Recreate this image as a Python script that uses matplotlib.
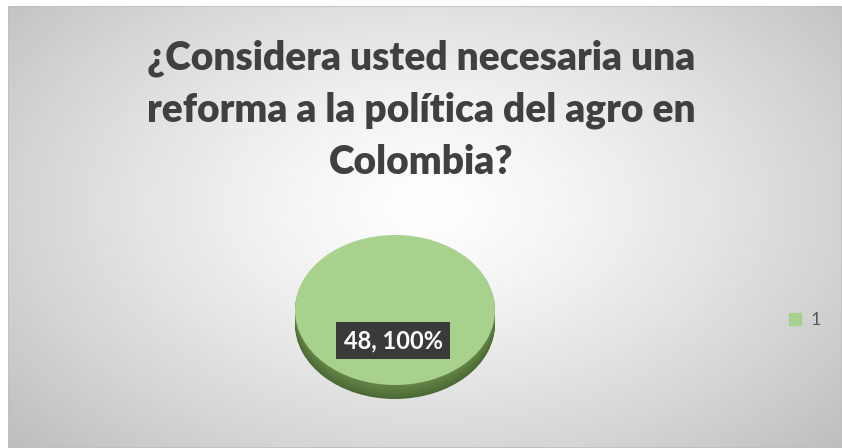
import matplotlib.pyplot as plt
import numpy as np
from matplotlib.patches import Rectangle

# data
categories = ['1']
values = [48]
title_lines = ['¿Considera usted necesaria una', 'reforma a la política del agro en', 'Colombia?']

W, H = 842, 448
fig = plt.figure(figsize=(W / 100, H / 100), dpi=100)
fig.patch.set_facecolor('white')
plt.rcParams['hatch.color'] = '#5a5a5a'
plt.rcParams['hatch.linewidth'] = 0.6

def px(x0, y0, x1, y1):
    # pixel box (top-left origin) -> figure fraction
    return [x0 / W, 1 - y1 / H, (x1 - x0) / W, (y1 - y0) / H]

# background with radial gradient
bg = fig.add_axes(px(8, 6, 842, 448))
gx, gy = np.meshgrid(np.linspace(0, 834, 400), np.linspace(0, 442, 220))
r = np.sqrt(((gx - 420) / 520) ** 2 + ((gy - 200) / 330) ** 2)
shade = 1 - 0.23 * np.clip(r, 0, 1.2) ** 1.3
img = np.dstack([shade, shade, shade])
bg.imshow(img, aspect='auto', extent=[0, 834, 442, 0], interpolation='bilinear')
bg.set_xlim(0, 834)
bg.set_ylim(442, 0)
bg.axis('off')
bg.add_patch(Rectangle((0, 0), 834, 442, fill=False, edgecolor='#bfbfbf', lw=1.2))

# title
for i, line in enumerate(title_lines):
    fig.text(421 / W, 1 - (58 + i * 52) / H, line, ha='center', va='center',
             fontsize=28, fontweight='heavy', family='Lato', color='#404040')

# pie axes (elliptical 3D-ish pie)
ax = fig.add_axes(px(295, 235, 495, 402))
ax.set_facecolor('none')
thick = 14 / 75
n = 14
for k in range(n, 0, -1):
    off = -thick * k / n
    c = np.array([0.30, 0.41, 0.21]) + (n - k) / n * np.array([0.09, 0.12, 0.07])
    ax.pie(values, colors=[tuple(c)], center=(0, off), radius=1.0,
           wedgeprops=dict(linewidth=0), normalize=True)
ax.pie(values, colors=['#a9d18e'], center=(0, 0), radius=1.0,
       wedgeprops=dict(linewidth=0), startangle=90)
ax.set_aspect('auto')
ax.set_xlim(-1, 1)
ax.set_ylim(-1 - (402 - 385) / 75, 1)
ax.axis('off')

# data label
total = sum(values)
lbl = f'{values[0]}, {values[0] / total:.0%}'
ax.text(-0.02, -0.41, lbl, ha='center', va='center', fontsize=17, fontweight='bold',
        family='Lato', color='white',
        bbox=dict(boxstyle='square,pad=0.3', fc='#3a3a3a', ec='#3a3a3a', hatch='..', lw=0))

# legend
lax = fig.add_axes(px(780, 300, 842, 340))
lax.axis('off')
lax.set_xlim(780, 842)
lax.set_ylim(340, 300)
lax.add_patch(Rectangle((789, 313), 12, 12, color='#a9d18e'))
lax.text(811, 319.5, categories[0], ha='left', va='center', fontsize=13,
         family='Lato', color='#595959')

fig.savefig('out.png', dpi=100)
